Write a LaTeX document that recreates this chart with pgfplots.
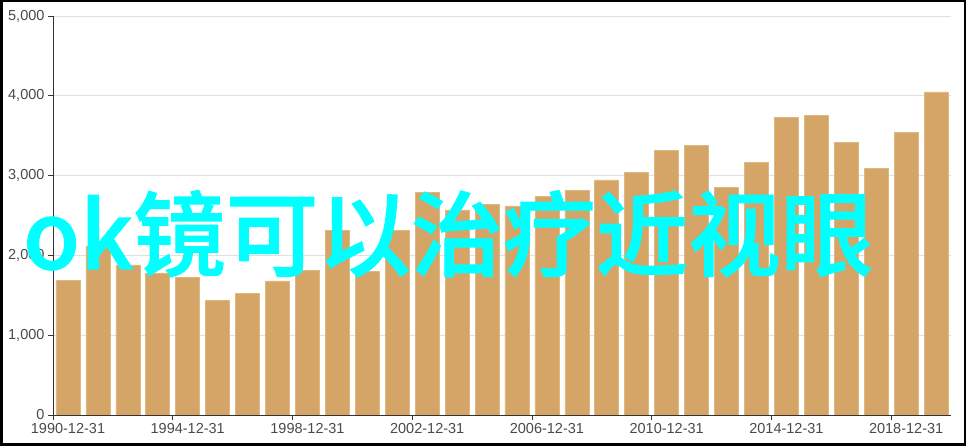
\documentclass[border=0pt]{standalone}
\usepackage{fontspec}
\setmainfont{Liberation Sans}
\newfontfamily\cjk{Noto Sans CJK SC}[UprightFont={* Medium}, UprightFeatures={FakeBold=1.2}]
\usepackage{pgfplots}
\pgfplotsset{compat=1.18}
\definecolor{barfill}{HTML}{D4A566}
\definecolor{baredge}{HTML}{DDB97F}
\definecolor{gridc}{HTML}{E0E0E0}
\definecolor{axisc}{HTML}{333333}
\definecolor{labelc}{HTML}{4A4A4A}
\definecolor{overlay}{HTML}{00FFFF}

\pgfplotstableread{
idx value
0 1690
1 2120
2 1880
3 1780
4 1725
5 1441
6 1525
7 1680
8 1813
9 2314
10 1800
11 2314
12 2794
13 2569
14 2644
15 2619
16 2736
17 2815
18 2945
19 3037
20 3312
21 3379
22 2849
23 3162
24 3730
25 3751
26 3421
27 3087
28 3538
29 4048
}\yearly

\begin{document}
\begin{tikzpicture}
\useasboundingbox (0,0) rectangle (966pt,446pt);
\begin{axis}[
    at={(53pt,31pt)}, anchor=south west,
    width=898pt, height=399pt, scale only axis,
    xmin=-0.5, xmax=29.5,
    ymin=0, ymax=5000,
    axis x line*=bottom, axis y line*=left,
    axis line style={axisc, line width=0.8pt},
    ytick={0,1000,...,5000},
    ymajorgrids,
    major grid style={gridc, line width=0.8pt},
    xtick={-0.5,3.5,...,27.5},
    xticklabels={1990-12-31,1994-12-31,1998-12-31,2002-12-31,2006-12-31,2010-12-31,2014-12-31,2018-12-31},
    xticklabel style={xshift=15pt},
    tick align=outside,
    major tick length=5pt,
    tick style={axisc, line width=0.8pt},
    ticklabel style={font=\fontsize{14.5}{16}\selectfont, text=labelc},
    /pgf/number format/assume math mode=true,
    /pgf/number format/1000 sep={,},
    scaled y ticks=false,
    ybar, bar width=24pt,
]
\addplot[fill=barfill, draw=baredge, line width=0.6pt] table[x=idx, y=value] {\yearly};
\end{axis}
\node[anchor=base west, inner sep=0pt, text=overlay, font=\cjk\fontsize{92.5}{92.5}\selectfont]
    at (23pt,177pt) {ok镜可以治疗近视眼};
\draw[black, line width=2.5pt] (1.25pt,1.25pt) rectangle (964.75pt,444.75pt);
\end{tikzpicture}
\end{document}
